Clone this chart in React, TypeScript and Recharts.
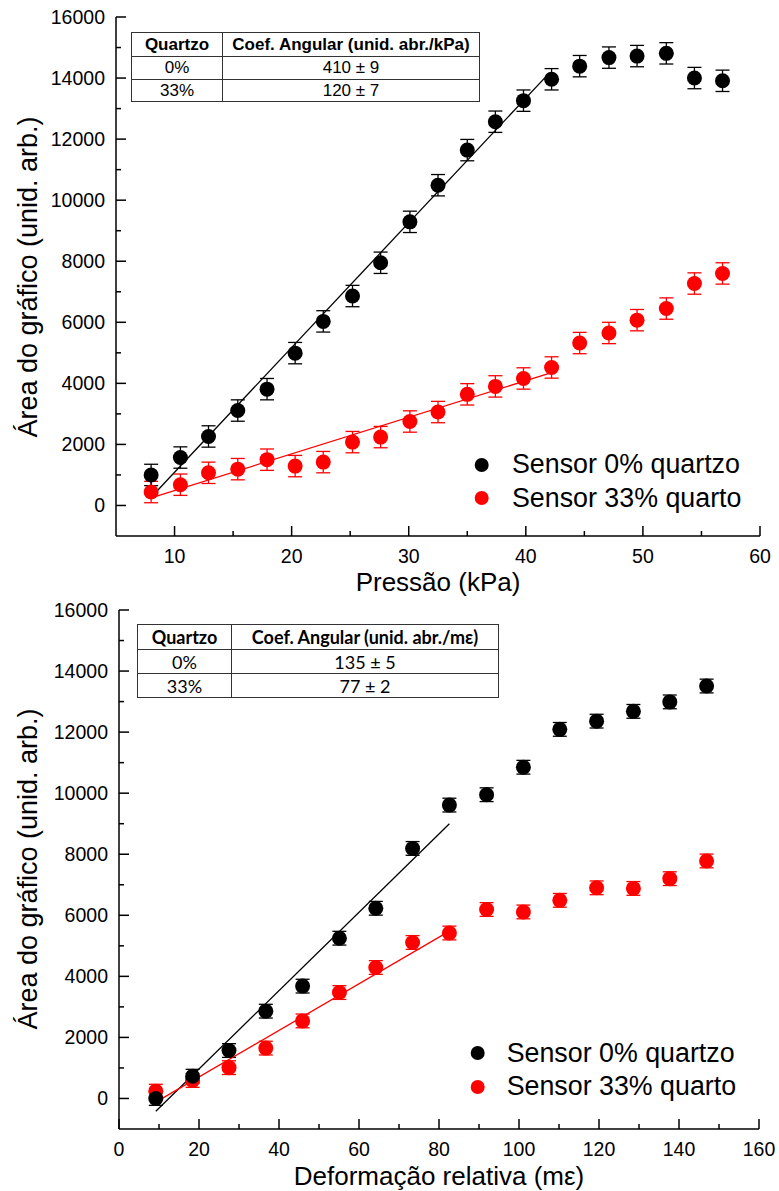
import React from 'react';
import { ScatterChart, Scatter, XAxis, YAxis, ErrorBar, Legend } from 'recharts';

// Gráfico superior: área vs pressão
const pressao = [8.0, 10.5, 12.9, 15.4, 17.9, 20.3, 22.7, 25.2, 27.6, 30.1, 32.5, 35.0, 37.4, 39.8, 42.2, 44.6, 47.1, 49.5, 52.0, 54.4, 56.8];
const area0Pressao = [1000, 1570, 2260, 3110, 3810, 4990, 6030, 6860, 7950, 9290, 10490, 11640, 12570, 13260, 13960, 14390, 14670, 14720, 14810, 14000, 13910];
const area33Pressao = [440, 680, 1070, 1190, 1500, 1290, 1420, 2075, 2240, 2750, 3060, 3640, 3900, 4160, 4520, 5320, 5650, 6070, 6450, 7270, 7600];
const erroPressao = 350;
const ajustePressaoX = [8.0, 41.7];
const ajuste0PressaoY = [270, 14040];
const ajuste33PressaoX = [8.0, 42.2];
const ajuste33PressaoY = [250, 4350];

// Gráfico inferior: área vs deformação
const deformacao = [9.2, 18.4, 27.5, 36.7, 45.9, 55.1, 64.2, 73.4, 82.6, 91.9, 101.1, 110.2, 119.4, 128.6, 137.7, 146.9];
const area0Def = [0, 730, 1570, 2860, 3680, 5250, 6230, 8190, 9610, 9950, 10850, 12090, 12360, 12680, 12990, 13510];
const area33Def = [240, 590, 1010, 1650, 2540, 3470, 4290, 5110, 5420, 6190, 6110, 6490, 6900, 6880, 7200, 7780];
const erroDef = 225;
const ajusteDefX = [9.2, 82.6];
const ajuste0DefY = [-420, 9000];
const ajuste33DefY = [-120, 5480];

const yTicks = [0, 1000, 2000, 3000, 4000, 5000, 6000, 7000, 8000, 9000, 10000, 11000, 12000, 13000, 14000, 15000, 16000];
const xTicksPressao = [10, 15, 20, 25, 30, 35, 40, 45, 50, 55, 60];
const xTicksDef = [0, 10, 20, 30, 40, 50, 60, 70, 80, 90, 100, 110, 120, 130, 140, 150, 160];

const serieNomes = ['Sensor 0% quartzo', 'Sensor 33% quarto'];
const serieCores = ['#000000', '#ff0000'];

const tabelaPressao = [['0%', '410 ± 9'], ['33%', '120 ± 7']];
const tabelaDef = [['0%', '135 ± 5'], ['33%', '77 ± 2']];

const FONT = '"Liberation Sans", Arial, sans-serif';

const pts = (xs: number[], ys: number[], err?: number) =>
  xs.map((x, i) => ({ x, y: ys[i], err }));

const YTick = (props: any) => {
  const { y, payload, axisX } = props;
  const major = payload.value % 2000 === 0;
  return (
    <g>
      <line x1={axisX} x2={axisX + (major ? 10 : 5)} y1={y} y2={y} stroke="#000" strokeWidth={1.5} />
      {major && (
        <text x={axisX - 11} y={y} dy={7} textAnchor="end" fontSize={19.5} fontFamily={FONT} fill="#000">
          {payload.value}
        </text>
      )}
    </g>
  );
};

const XTick = (props: any) => {
  const { x, payload, axisY, step } = props;
  const major = payload.value % step === 0;
  return (
    <g>
      <line x1={x} x2={x} y1={axisY} y2={axisY - (major ? 10 : 5)} stroke="#000" strokeWidth={1.5} />
      {major && (
        <text x={x} y={axisY + 27} textAnchor="middle" fontSize={19.5} fontFamily={FONT} fill="#000">
          {payload.value}
        </text>
      )}
    </g>
  );
};

const Dot = (cor: string) => (p: any) => <circle cx={p.cx} cy={p.cy} r={7.5} fill={cor} />;

const LegendBox = ({ gap }: { gap: number }) => (
  <div style={{ fontFamily: FONT, fontSize: 26.8, color: '#000' }}>
    {serieNomes.map((nome, i) => (
      <div key={nome} style={{ display: 'flex', alignItems: 'center', height: 33.5 }}>
        <svg width={gap} height={16}>
          <circle cx={15.7} cy={8} r={7} fill={serieCores[i]} />
        </svg>
        <span style={{ lineHeight: '33px', whiteSpace: 'nowrap' }}>{nome}</span>
      </div>
    ))}
  </div>
);

const Tabela = ({ rows, header, left, top, width, col1, font, size, rowH }: any) => (
  <table
    style={{
      position: 'absolute', left, top, width, borderCollapse: 'collapse',
      fontFamily: font, fontSize: size, color: '#000', background: '#fff',
    }}
  >
    <tbody>
      <tr style={{ height: rowH[0] }}>
        <th style={{ border: '1.5px solid #333', width: col1, padding: 0, fontWeight: 700 }}>Quartzo</th>
        <th style={{ border: '1.5px solid #333', padding: 0, fontWeight: 700, whiteSpace: 'nowrap' }}>{header}</th>
      </tr>
      {rows.map((r: string[], i: number) => (
        <tr key={r[0]} style={{ height: rowH[i + 1] }}>
          <td style={{ border: '1.5px solid #333', textAlign: 'center', padding: 0 }}>{r[0]}</td>
          <td style={{ border: '1.5px solid #333', textAlign: 'center', padding: 0 }}>{r[1]}</td>
        </tr>
      ))}
    </tbody>
  </table>
);

const titleStyle = { fontFamily: FONT, fontSize: 26, fill: '#000' };
const yTitleStyle = { fontFamily: FONT, fontSize: 27, fill: '#000' };

const Painel = (props: any) => {
  const { height, top, left, xDomain, xTicks, step, xTitle, d0, d33, f0, f33, yTitleY, xTitleY, legendPos } = props;
  const axisY = height - props.xAxisH;
  return (
    <ScatterChart width={779} height={height} margin={{ top, right: 779 - props.right, bottom: 0, left: 0 }}>
      <XAxis
        type="number" dataKey="x" domain={xDomain} ticks={xTicks} interval={0}
        height={props.xAxisH} tickSize={0} tickLine={false}
        axisLine={{ stroke: '#000', strokeWidth: 1.5 }}
        tick={(p: any) => <XTick {...p} axisY={axisY} step={step} />}
        label={{ content: () => <text x={(left + props.right) / 2} y={xTitleY} textAnchor="middle" style={titleStyle}>{xTitle}</text> }}
      />
      <XAxis xAxisId="top" orientation="top" type="number" dataKey="x" domain={xDomain} height={0} tick={false} tickLine={false} axisLine={{ stroke: '#000', strokeWidth: 1.5 }} />
      <YAxis
        type="number" dataKey="y" domain={[-1000, 16000]} ticks={yTicks} interval={0}
        width={left} tickSize={0} tickLine={false}
        axisLine={{ stroke: '#000', strokeWidth: 1.5 }}
        tick={(p: any) => <YTick {...p} axisX={left} />}
        label={{ content: () => (
          <text x={0} y={0} transform={`translate(37, ${yTitleY}) rotate(-90)`} textAnchor="middle" style={yTitleStyle}>
            Área do gráfico (unid. arb.)
          </text>
        ) }}
      />
      <YAxis yAxisId="right" orientation="right" type="number" domain={[-1000, 16000]} width={0} tick={false} tickLine={false} axisLine={{ stroke: '#000', strokeWidth: 1.5 }} />
      <Legend
        layout="vertical" align="center" verticalAlign="middle"
        wrapperStyle={{ left: legendPos[0], top: legendPos[1], width: 320 }}
        content={() => <LegendBox gap={legendPos[2]} />}
      />
      <Scatter data={f0} line={{ stroke: '#000', strokeWidth: 1.3 }} shape={() => <g />} isAnimationActive={false} legendType="none" />
      <Scatter data={f33} line={{ stroke: '#ff0000', strokeWidth: 1.3 }} shape={() => <g />} isAnimationActive={false} legendType="none" />
      <Scatter data={d33} shape={Dot('#ff0000')} isAnimationActive={false}>
        <ErrorBar dataKey="err" direction="y" width={7} stroke="#ff0000" strokeWidth={1.3} />
      </Scatter>
      <Scatter data={d0} shape={Dot('#000')} isAnimationActive={false}>
        <ErrorBar dataKey="err" direction="y" width={7} stroke="#000" strokeWidth={1.3} />
      </Scatter>
    </ScatterChart>
  );
};

export default function App() {
  return (
    <div style={{ position: 'absolute', left: 0, top: 0, width: 779, height: 1191, background: '#fff', overflow: 'hidden' }}>
      <div style={{ position: 'absolute', left: 0, top: 0 }}>
        <Painel
          height={598} top={17} left={116} right={760} xAxisH={62}
          xDomain={[5, 60]} xTicks={xTicksPressao} step={10} xTitle="Pressão (kPa)"
          d0={pts(pressao, area0Pressao, erroPressao)} d33={pts(pressao, area33Pressao, erroPressao)}
          f0={pts(ajustePressaoX, ajuste0PressaoY)} f33={pts(ajuste33PressaoX, ajuste33PressaoY)}
          yTitleY={277} xTitleY={591} legendPos={[466, 448, 46]}
        />
        <Tabela rows={tabelaPressao} header="Coef. Angular (unid. abr./kPa)" left={131} top={32} width={349} col1={90}
          font='"Liberation Sans Narrow", "Arial Narrow", sans-serif' size={17} rowH={[24, 23, 22]} />
      </div>
      <div style={{ position: 'absolute', left: 0, top: 598 }}>
        <Painel
          height={593} top={12} left={119} right={759} xAxisH={62}
          xDomain={[0, 160]} xTicks={xTicksDef} step={20} xTitle="Deformação relativa (mε)"
          d0={pts(deformacao, area0Def, erroDef)} d33={pts(deformacao, area33Def, erroDef)}
          f0={pts(ajusteDefX, ajuste0DefY)} f33={pts(ajusteDefX, ajuste33DefY)}
          yTitleY={271} xTitleY={587} legendPos={[462, 438.5, 44.7]}
        />
        <Tabela rows={tabelaDef} header="Coef. Angular (unid. abr./mε)" left={137} top={26} width={362} col1={93}
          font='Lato, "Open Sans", sans-serif' size={18} rowH={[25, 24, 24]} />
      </div>
    </div>
  );
}
